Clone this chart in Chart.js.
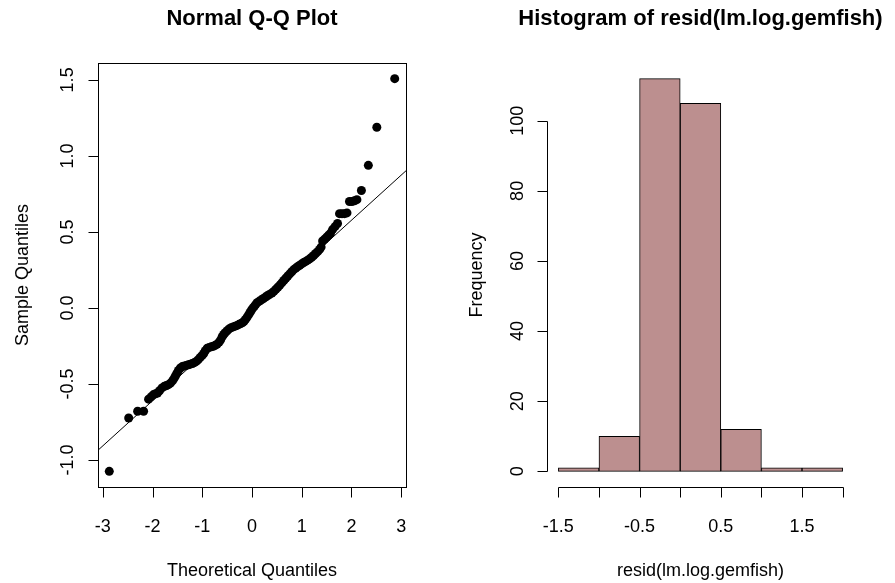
<!DOCTYPE html>
<html>
<head>
<meta charset="utf-8">
<script src="https://cdn.jsdelivr.net/npm/chart.js@4"></script>
<style>
html, body { margin: 0; padding: 0; background: #fff; }
#wrap { position: relative; width: 895px; height: 583px; }
canvas { position: absolute; top: 0; }
#qq { left: 0; }
#hist { left: 447px; }
</style>
</head>
<body>
<div id="wrap">
<canvas id="qq" width="447" height="583"></canvas>
<canvas id="hist" width="448" height="583"></canvas>
</div>
<script>
// Q-Q plot points (theoretical quantile, sample quantile)
var qqX = [-2.87, -2.48, -2.30, -2.18, -2.08, -2.03, -1.98, -1.94, -1.90, -1.86,
           -1.81, -1.76, -1.72, -1.68, -1.64, -1.60, -1.57, -1.54, -1.51, -1.48,
           -1.44, -1.40, -1.36, -1.32, -1.28, -1.24, -1.20, -1.16, -1.12, -1.08,
           -1.04, -1.00, -0.97, -0.94, -0.90, -0.86, -0.82, -0.78, -0.74, -0.70,
           -0.66, -0.63, -0.60, -0.57, -0.54, -0.50, -0.46, -0.42, -0.38, -0.34,
           -0.30, -0.26, -0.22, -0.19, -0.16, -0.13, -0.10, -0.07, -0.04, -0.01,
           0.02, 0.05, 0.08, 0.11, 0.15, 0.19, 0.23, 0.27, 0.31, 0.35,
           0.40, 0.44, 0.48, 0.52, 0.56, 0.60, 0.64, 0.68, 0.72, 0.76,
           0.80, 0.84, 0.88, 0.92, 0.96, 1.00, 1.04, 1.08, 1.12, 1.16,
           1.20, 1.24, 1.28, 1.32, 1.36, 1.39, 1.42, 1.46, 1.50, 1.54,
           1.58, 1.62, 1.67, 1.72, 1.76, 1.81, 1.86, 1.91, 1.96, 2.01,
           2.06, 2.11, 2.20, 2.34, 2.51, 2.87];
var qqY = [-1.075, -0.724, -0.680, -0.680, -0.600, -0.585, -0.570, -0.565, -0.560, -0.545,
           -0.526, -0.515, -0.510, -0.505, -0.495, -0.480, -0.465, -0.448, -0.430, -0.412,
           -0.395, -0.386, -0.382, -0.378, -0.374, -0.370, -0.366, -0.360, -0.352, -0.340,
           -0.325, -0.312, -0.300, -0.282, -0.265, -0.260, -0.256, -0.252, -0.246, -0.238,
           -0.225, -0.210, -0.190, -0.175, -0.163, -0.150, -0.138, -0.130, -0.125, -0.120,
           -0.115, -0.108, -0.102, -0.097, -0.088, -0.075, -0.062, -0.046, -0.030, -0.014,
           0.000, 0.012, 0.025, 0.036, 0.045, 0.053, 0.062, 0.071, 0.080, 0.088,
           0.098, 0.109, 0.122, 0.136, 0.150, 0.165, 0.180, 0.195, 0.210, 0.224,
           0.238, 0.252, 0.262, 0.272, 0.281, 0.290, 0.298, 0.306, 0.314, 0.323,
           0.333, 0.345, 0.358, 0.370, 0.385, 0.400, 0.440, 0.452, 0.465, 0.478,
           0.492, 0.515, 0.535, 0.555, 0.620, 0.620, 0.620, 0.625, 0.700, 0.700,
           0.705, 0.712, 0.772, 0.938, 1.188, 1.508];
// qqline end points
var qqLineX = [-3.1, 3.1];
var qqLineY = [-0.937, 0.903];
var qqXTicks = [-3, -2, -1, 0, 1, 2, 3];
var qqXTickLabels = ['-3', '-2', '-1', '0', '1', '2', '3'];
var qqYTicks = [-1.0, -0.5, 0, 0.5, 1.0, 1.5];
var qqYTickLabels = ['-1.0', '-0.5', '0.0', '0.5', '1.0', '1.5'];

// histogram
var histMids = [-1.25, -0.75, -0.25, 0.25, 0.75, 1.25, 1.75];
var histCounts = [1, 10, 112, 105, 12, 1, 1];
var histBreaks = [-1.5, -1, -0.5, 0, 0.5, 1, 1.5, 2];
var histXTickLabels = ['-1.5', '', '-0.5', '', '0.5', '', '1.5', ''];
var histYTicks = [0, 20, 40, 60, 80, 100];
var histYTickLabels = ['0', '20', '40', '60', '80', '100'];

var FONT = '"Liberation Sans", Arial, sans-serif';

// base-graphics style axes, box and titles, placed with the chart's scales
var rAxes = {
    id: 'rAxes',
    afterDraw: function(chart, args, o) {
        var ctx = chart.ctx, a = chart.chartArea;
        var xs = chart.scales.x, ys = chart.scales.y;
        function px(v) { return Math.round(xs.getPixelForValue(v)) + 0.5; }
        function py(v) { return Math.round(ys.getPixelForValue(v)) + 0.5; }
        var bottom = Math.round(a.bottom) + 0.5, left = Math.round(a.left) + 0.5;
        ctx.save();
        ctx.strokeStyle = '#000';
        ctx.fillStyle = '#000';
        ctx.lineWidth = 1;
        if (o.box) {
            ctx.strokeRect(left, Math.round(a.top) + 0.5,
                Math.round(a.right) - Math.round(a.left), Math.round(a.bottom) - Math.round(a.top));
        }
        ctx.beginPath();
        ctx.moveTo(px(o.xTicks[0]), bottom);
        ctx.lineTo(px(o.xTicks[o.xTicks.length - 1]), bottom);
        o.xTicks.forEach(function(v) {
            ctx.moveTo(px(v), bottom);
            ctx.lineTo(px(v), bottom + 10);
        });
        ctx.moveTo(left, py(o.yTicks[0]));
        ctx.lineTo(left, py(o.yTicks[o.yTicks.length - 1]));
        o.yTicks.forEach(function(v) {
            ctx.moveTo(left, py(v));
            ctx.lineTo(left - 10, py(v));
        });
        ctx.stroke();

        ctx.font = '18px ' + FONT;
        ctx.textAlign = 'center';
        ctx.textBaseline = 'alphabetic';
        o.xTicks.forEach(function(v, i) {
            ctx.fillText(o.xLabels[i], xs.getPixelForValue(v), 532);
        });
        ctx.fillText(o.xTitle, (a.left + a.right) / 2, 576);
        o.yTicks.forEach(function(v, i) {
            ctx.save();
            ctx.translate(a.left - o.labelGap, ys.getPixelForValue(v));
            ctx.rotate(-Math.PI / 2);
            ctx.fillText(o.yLabels[i], 0, 0);
            ctx.restore();
        });
        ctx.save();
        ctx.translate(a.left - o.titleGap, (a.top + a.bottom) / 2);
        ctx.rotate(-Math.PI / 2);
        ctx.fillText(o.yTitle, 0, 0);
        ctx.restore();

        ctx.font = 'bold 22px ' + FONT;
        ctx.fillText(o.main, (a.left + a.right) / 2, 25);
        ctx.restore();
    }
};

var qqPoints = qqX.map(function(x, i) { return { x: x, y: qqY[i] }; });
var qqLine = qqLineX.map(function(x, i) { return { x: x, y: qqLineY[i] }; });

new Chart(document.getElementById('qq').getContext('2d'), {
    type: 'scatter',
    data: {
        datasets: [{
            data: qqPoints,
            backgroundColor: '#000',
            borderWidth: 0,
            pointRadius: 4.5,
            pointHoverRadius: 4.5
        }, {
            type: 'line',
            data: qqLine,
            borderColor: '#000',
            borderWidth: 1,
            pointRadius: 0,
            fill: false
        }]
    },
    options: {
        responsive: false,
        animation: false,
        devicePixelRatio: 1,
        events: [],
        layout: { padding: { left: 98, right: 41, top: 63, bottom: 96 } },
        scales: {
            x: { type: 'linear', display: false, min: -3.097, max: 3.097 },
            y: { type: 'linear', display: false, min: -1.178, max: 1.611 }
        },
        plugins: {
            legend: { display: false },
            tooltip: { enabled: false },
            rAxes: {
                box: true,
                labelGap: 25,
                titleGap: 70,
                main: 'Normal Q-Q Plot',
                xTitle: 'Theoretical Quantiles',
                yTitle: 'Sample Quantiles',
                xTicks: qqXTicks, xLabels: qqXTickLabels,
                yTicks: qqYTicks, yLabels: qqYTickLabels
            }
        }
    },
    plugins: [rAxes]
});

new Chart(document.getElementById('hist').getContext('2d'), {
    type: 'bar',
    data: {
        datasets: [{
            data: histMids.map(function(m, i) { return { x: m, y: histCounts[i] }; }),
            backgroundColor: '#bc8f8f',
            borderColor: '#000',
            borderWidth: 1,
            borderSkipped: false,
            barPercentage: 1,
            categoryPercentage: 1
        }]
    },
    options: {
        responsive: false,
        animation: false,
        devicePixelRatio: 1,
        events: [],
        layout: { padding: { left: 100, right: 41, top: 63, bottom: 96 } },
        scales: {
            x: {
                type: 'linear', display: false, offset: false, min: -1.64, max: 2.14,
                afterBuildTicks: function(s) { s.ticks = histBreaks.map(function(v) { return { value: v }; }); }
            },
            y: { type: 'linear', display: false, min: -4.48, max: 116.48 }
        },
        plugins: {
            legend: { display: false },
            tooltip: { enabled: false },
            rAxes: {
                box: false,
                labelGap: 24,
                titleGap: 65,
                main: 'Histogram of resid(lm.log.gemfish)',
                xTitle: 'resid(lm.log.gemfish)',
                yTitle: 'Frequency',
                xTicks: histBreaks, xLabels: histXTickLabels,
                yTicks: histYTicks, yLabels: histYTickLabels
            }
        }
    },
    plugins: [rAxes]
});
</script>
</body>
</html>
